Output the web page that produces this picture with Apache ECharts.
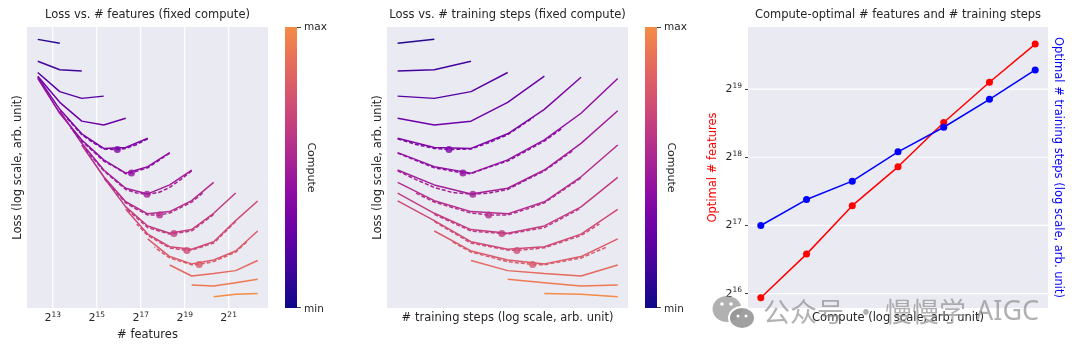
<!DOCTYPE html>
<html><head><meta charset="utf-8">
<script src="https://cdn.jsdelivr.net/npm/echarts@6/dist/echarts.min.js"></script>
<style>html,body{margin:0;padding:0;background:#fff}#c{width:1080px;height:357px}</style>
</head><body><div id="c"></div>
<script>
// ---------- data (log2 units, loss in arbitrary units) ----------
const featuresLog2 = [12.32,13.32,14.32,15.32,16.32,17.32,18.32,19.32,20.32,21.32,22.32];
const stepsLog2 = [15.6,16.6,17.6,18.6,19.6,20.6,21.6];
const computeLog2 = [28.92,29.92,30.92,31.92,32.92,33.92,34.92,35.92,36.92,37.92,38.92,39.92,40.92,41.92];
// loss of each fixed-compute curve, indexed by training-steps grid
const lossCurves = [
  [94.2,95.6,null,null,null,null,null],
  [84.3,84.8,87.8,null,null,null,null],
  [75.4,74.6,77.0,83.8,null,null,null],
  [67.5,65.1,66.5,73.2,82.5,null,null],
  [60.4,57.1,56.8,62.0,70.7,82.1,null],
  [55.3,50.3,48.0,52.7,59.8,69.3,81.7],
  [49.1,43.8,40.6,42.6,49.1,58.6,70.2],
  [44.7,38.2,34.3,33.5,37.8,46.7,58.0],
  [40.9,33.7,27.9,26.6,29.2,36.0,46.5],
  [38.1,31.1,23.6,20.9,21.8,26.3,35.1],
  [null,27.4,20.3,17.1,15.7,18.3,24.6],
  [null,null,16.9,13.3,12.3,11.4,15.3],
  [null,null,null,10.2,9.0,7.8,8.2],
  [null,null,null,null,5.2,4.9,4.0]
];
// fitted (dashed) curves for curves 5..11 : [stepsLog2, loss]
const fitCurveIndex = [4,5,6,7,8,9,10];
const fitCurves = [
  [[15.6,60.2],[16.1,58.2],[16.6,56.8],[17.0,56.4],[17.6,56.6],[18.1,58.9],[18.6,61.7],[19.3,67.8]],
  [[15.6,55.1],[16.6,49.9],[17.38,48.0],[17.6,47.8],[18.1,50.2],[18.6,52.3],[19.6,59.4],[20.1,64.1]],
  [[15.6,48.8],[16.1,45.7],[16.6,42.9],[17.1,41.1],[17.65,40.5],[18.1,40.9],[18.6,42.2],[19.6,48.8],[20.4,56.2]],
  [[16.1,40.9],[16.6,37.7],[17.6,33.8],[18.08,33.1],[18.6,33.1],[19.1,35.1],[19.6,37.4],[20.6,46.3]],
  [[16.6,33.3],[17.6,27.4],[18.44,26.5],[18.6,26.3],[19.6,28.6],[20.6,35.6]],
  [[16.6,30.8],[17.6,23.1],[18.6,20.6],[18.85,20.5],[19.6,21.4],[20.6,25.8],[21.1,29.9]],
  [[17.1,23.5],[17.6,19.9],[18.6,16.5],[19.28,15.5],[19.6,15.4],[20.6,17.8],[21.3,21.7]]
];
// compute-optimal points
const optCompute  = [32.92,33.92,34.92,35.92,36.92,37.92,38.92];
const optFeatures = [15.94,16.58,17.29,17.86,18.51,19.10,19.66];
const optSteps    = [17.00,17.38,17.65,18.08,18.44,18.85,19.28];
const optLoss     = [56.4,48.0,40.5,33.1,26.5,20.5,15.5];
const featureTicks = [13,15,17,19,21];
const optTicks = [16,17,18,19];

// ---------- style helpers ----------
const FONT = 'DejaVu Sans';
const TXT = '#262626';
const BG = '#EAEAF2';
const PL = ['#0d0887','#41049d','#6a00a8','#8f0da4','#b12a90','#cc4778','#e16462','#f2844b','#fca636','#fcce25','#f0f921'];
function hx(c){return [1,3,5].map(i=>parseInt(c.substr(i,2),16));}
function plasma(t){
  const p=Math.max(0,Math.min(1,t))*10; const i=Math.min(9,Math.floor(p)); const f=p-i;
  const a=hx(PL[i]), b=hx(PL[i+1]);
  return 'rgb('+a.map((v,k)=>Math.round(v+(b[k]-v)*f)).join(',')+')';
}
const TMAX = 0.72;
const curveColor = k => plasma(TMAX*(k+1)/lossCurves.length);

const supRich = {
  b:{fontSize:11, color:TXT, fontFamily:FONT},
  s:{fontSize:7.5, color:TXT, fontFamily:FONT, padding:[0,0,7,0]}
};
const supFmt = v => '{b|2}{s|' + Math.round(v) + '}';

const series = [];
// white grid lines, drawn through the axes' scales, underneath the curves
const P1Y = [0,100], P3X = [32.64,39.2];
featureTicks.forEach(v=>series.push({type:'line', xAxisIndex:0, yAxisIndex:0, z:1, silent:true, showSymbol:false,
  data:[[v,P1Y[0]],[v,P1Y[1]]], lineStyle:{color:'#ffffff', width:1.2}}));
optTicks.forEach(v=>series.push({type:'line', xAxisIndex:2, yAxisIndex:2, z:1, silent:true, showSymbol:false,
  data:[[P3X[0],v],[P3X[1],v]], lineStyle:{color:'#ffffff', width:1.2}}));

lossCurves.forEach((row,k)=>{
  const col = curveColor(k);
  const p2 = [], p1 = [];
  row.forEach((v,j)=>{ if(v!==null){ p2.push([stepsLog2[j], v]); p1.push([computeLog2[k]-stepsLog2[j], v]); } });
  series.push({type:'line', xAxisIndex:0, yAxisIndex:0, data:p1, showSymbol:false, z:3,
    lineStyle:{color:col, width:1.5}, silent:true});
  series.push({type:'line', xAxisIndex:1, yAxisIndex:1, data:p2, showSymbol:false, z:3,
    lineStyle:{color:col, width:1.5}, silent:true});
});
fitCurves.forEach((pts,n)=>{
  const k = fitCurveIndex[n]; const col = curveColor(k);
  series.push({type:'line', xAxisIndex:1, yAxisIndex:1, data:pts, showSymbol:false, z:4,
    lineStyle:{color:col, width:1.5, type:[4,2]}, silent:true});
  series.push({type:'line', xAxisIndex:0, yAxisIndex:0, data:pts.map(p=>[computeLog2[k]-p[0], p[1]]), showSymbol:false, z:4,
    lineStyle:{color:col, width:1.5, type:[4,2]}, silent:true});
});
// optimum dots
series.push({type:'scatter', xAxisIndex:0, yAxisIndex:0, z:5, symbolSize:7,
  data: optFeatures.map((f,i)=>({value:[f, optLoss[i]], itemStyle:{color:curveColor(fitCurveIndex[i])}}))});
series.push({type:'scatter', xAxisIndex:1, yAxisIndex:1, z:5, symbolSize:7,
  data: optSteps.map((s,i)=>({value:[s, optLoss[i]], itemStyle:{color:curveColor(fitCurveIndex[i])}}))});
// panel 3
series.push({type:'line', xAxisIndex:2, yAxisIndex:2, z:3, symbol:'circle', symbolSize:7,
  data: optCompute.map((c,i)=>[c, optFeatures[i]]), lineStyle:{color:'#ff0000', width:1.5}, itemStyle:{color:'#ff0000'}});
series.push({type:'line', xAxisIndex:2, yAxisIndex:2, z:3, symbol:'circle', symbolSize:7,
  data: optCompute.map((c,i)=>[c, optSteps[i]]), lineStyle:{color:'#0000ff', width:1.5}, itemStyle:{color:'#0000ff'}});

// ---------- colorbars & watermark ----------
function colorbar(x){
  const stops=[]; for(let i=0;i<=12;i++){const t=i/12; stops.push({offset:1-t, color:plasma(t*TMAX)});}
  return [
    {type:'rect', shape:{x:x, y:27, width:12, height:281}, style:{fill:{type:'linear',x:0,y:0,x2:0,y2:1,colorStops:stops}}},
    {type:'line', shape:{x1:x+12, y1:27.5, x2:x+16, y2:27.5}, style:{stroke:'#444', lineWidth:1}},
    {type:'line', shape:{x1:x+12, y1:307.5, x2:x+16, y2:307.5}, style:{stroke:'#444', lineWidth:1}},
    {type:'text', x:x+19, y:27, style:{text:'max', fontSize:10.5, fontFamily:FONT, fill:TXT, align:'left', verticalAlign:'middle'}},
    {type:'text', x:x+19, y:309, style:{text:'min', fontSize:10.5, fontFamily:FONT, fill:TXT, align:'left', verticalAlign:'middle'}},
    {type:'text', x:x+26, y:167.5, rotation:-Math.PI/2, style:{text:'Compute', fontSize:11, fontFamily:FONT, fill:TXT, align:'center', verticalAlign:'middle'}}
  ];
}
const WM = 'rgba(140,140,140,0.68)';
const graphic = [].concat(colorbar(285), colorbar(645), [
  {type:'ellipse', shape:{cx:727, cy:309, rx:14.5, ry:13}, style:{fill:WM}, z:50},
  {type:'ellipse', shape:{cx:742, cy:318, rx:13, ry:11}, style:{fill:'rgba(150,150,150,0.9)', stroke:'#fff', lineWidth:2}, z:51},
  {type:'circle', shape:{cx:722, cy:304, r:1.8}, style:{fill:'#fff'}, z:52},
  {type:'circle', shape:{cx:731, cy:304, r:1.8}, style:{fill:'#fff'}, z:52},
  {type:'circle', shape:{cx:738, cy:316, r:1.5}, style:{fill:'#fff'}, z:52},
  {type:'circle', shape:{cx:746, cy:316, r:1.5}, style:{fill:'#fff'}, z:52},
  {type:'text', x:763, y:312, z:50, style:{text:'公众号', fontSize:27, fontFamily:'Noto Sans CJK SC', fill:WM, verticalAlign:'middle'}},
  {type:'text', x:866, y:312, z:50, style:{text:'·', fontSize:27, fontFamily:'Noto Sans CJK SC', fill:WM, align:'center', verticalAlign:'middle'}},
  {type:'text', x:885, y:312, z:50, style:{text:'慢慢学', fontSize:27, fontFamily:'Noto Sans CJK SC', fill:WM, verticalAlign:'middle'}},
  {type:'text', x:976, y:312, z:50, style:{text:'AIGC', fontSize:27, fontFamily:'Noto Sans', fill:WM, verticalAlign:'middle'}}
]);

const nameStyle = {fontSize:11.5, color:TXT, fontFamily:FONT};
const hideAxis = {axisLine:{show:false}, axisTick:{show:false}, splitLine:{show:false}, axisLabel:{show:false}};
const gridBase = {top:27, height:281, show:true, backgroundColor:BG, borderWidth:0};
const titleStyle = {fontSize:11.5, fontWeight:'normal', color:TXT, fontFamily:FONT};

const option = {
  animation:false,
  textStyle:{fontFamily:FONT},
  title:[
    {text:'Loss vs. # features (fixed compute)', left:147.5, top:9, textAlign:'center', textStyle:titleStyle, padding:0},
    {text:'Loss vs. # training steps (fixed compute)', left:507.5, top:9, textAlign:'center', textStyle:titleStyle, padding:0},
    {text:'Compute-optimal # features and # training steps', left:898, top:9, textAlign:'center', textStyle:titleStyle, padding:0}
  ],
  grid:[
    Object.assign({left:27, width:241}, gridBase),
    Object.assign({left:387, width:241}, gridBase),
    Object.assign({left:748, width:300}, gridBase)
  ],
  xAxis:[
    {type:'value', gridIndex:0, min:11.83, max:22.79, axisLine:{show:false}, axisTick:{show:false}, splitLine:{show:false},
     axisLabel:{customValues:featureTicks, formatter:supFmt, rich:supRich, margin:3},
     name:'# features', nameLocation:'middle', nameGap:21, nameTextStyle:nameStyle},
    Object.assign({type:'value', gridIndex:1, min:15.31, max:21.88,
     name:'# training steps (log scale, arb. unit)', nameLocation:'middle', nameGap:4, nameTextStyle:nameStyle}, hideAxis),
    Object.assign({type:'value', gridIndex:2, min:P3X[0], max:P3X[1],
     name:'Compute (log scale, arb. unit)', nameLocation:'middle', nameGap:4, nameTextStyle:nameStyle}, hideAxis)
  ],
  yAxis:[
    Object.assign({type:'value', gridIndex:0, min:P1Y[0], max:P1Y[1],
     name:'Loss (log scale, arb. unit)', nameLocation:'middle', nameGap:3, nameRotate:90, nameTextStyle:nameStyle}, hideAxis),
    Object.assign({type:'value', gridIndex:1, min:0, max:100,
     name:'Loss (log scale, arb. unit)', nameLocation:'middle', nameGap:3, nameRotate:90, nameTextStyle:nameStyle}, hideAxis),
    {type:'value', gridIndex:2, min:15.79, max:19.91, axisLine:{show:false}, splitLine:{show:false},
     axisTick:{show:true, customValues:optTicks, length:3, lineStyle:{color:'#444'}},
     axisLabel:{customValues:optTicks, formatter:supFmt, rich:supRich, margin:6},
     name:'Optimal # features', nameLocation:'middle', nameGap:29, nameRotate:90,
     nameTextStyle:{fontSize:11.5, color:'#ff0000', fontFamily:FONT}},
    Object.assign({type:'value', gridIndex:2, position:'right', min:15.79, max:19.91,
     name:'Optimal # training steps (log scale, arb. unit)', nameLocation:'middle', nameGap:4, nameRotate:-90,
     nameTextStyle:{fontSize:11.5, color:'#0000ff', fontFamily:FONT}}, hideAxis)
  ],
  graphic: graphic,
  series: series
};
const chart = echarts.init(document.getElementById('c'), null, {renderer:'canvas'});
chart.setOption(option);
</script>
</body></html>
